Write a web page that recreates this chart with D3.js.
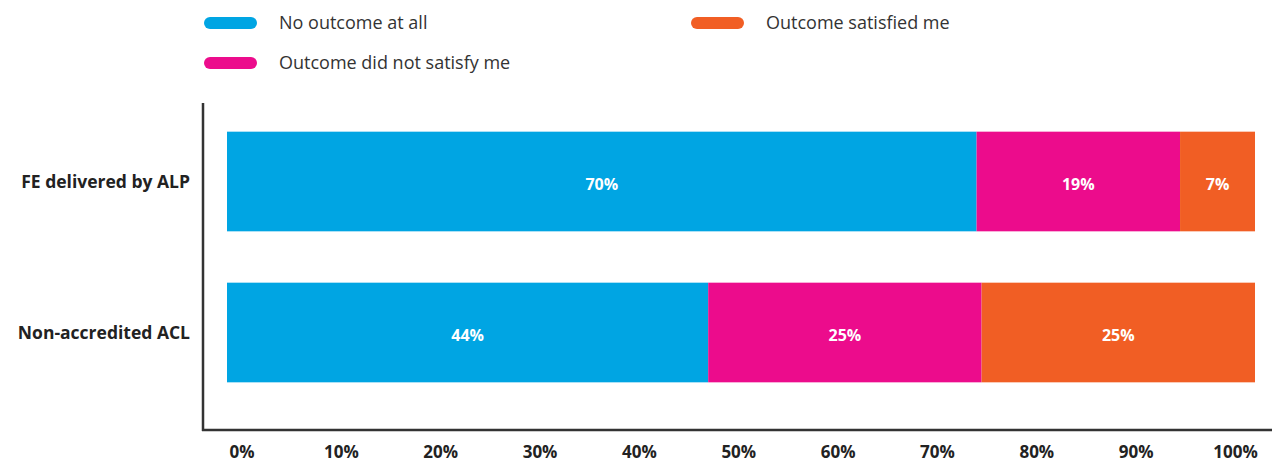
<!DOCTYPE html>
<html>
<head>
<meta charset="utf-8">
<script src="https://cdn.jsdelivr.net/npm/d3@7"></script>
<style>
  body { margin: 0; background: #fff; }
  text { font-family: "Open Sans", "Noto Sans", sans-serif; }
</style>
</head>
<body>
<script>
// Data
const categories = ["FE delivered by ALP", "Non-accredited ACL"];
const seriesNames = ["No outcome at all", "Outcome did not satisfy me", "Outcome satisfied me"];
const noOutcome = [70, 44];
const notSatisfied = [19, 25];
const satisfied = [7, 25];
const tickValues = [0, 10, 20, 30, 40, 50, 60, 70, 80, 90, 100];

const colors = ["#00a5e3", "#ec0c8c", "#f15e24"];

const width = 1272, height = 467;

const svg = d3.select("body")
    .append("svg")
    .attr("width", width)
    .attr("height", height);

// rows, each normalised to its own total so bars fill the full width
const rows = categories.map((c, i) => {
    const vals = [noOutcome[i], notSatisfied[i], satisfied[i]];
    const total = d3.sum(vals);
    let acc = 0;
    return {
        name: c,
        segs: vals.map((v, j) => {
            const s = { value: v, start: acc / total * 100, end: (acc + v) / total * 100, color: colors[j] };
            acc += v;
            return s;
        })
    };
});

// Scales
const x = d3.scaleLinear().domain([0, 100]).range([227, 1255]);
const xTicks = d3.scaleLinear().domain([0, 100]).range([241.5, 1235]);
const y = d3.scaleBand().domain(categories).range([106, 408]).paddingInner(0.34).paddingOuter(0.17);

// Bars
const rowG = svg.selectAll("g.row")
    .data(rows)
    .enter()
    .append("g")
    .attr("class", "row")
    .attr("transform", d => `translate(0, ${y(d.name)})`);

rowG.selectAll("rect")
    .data(d => d.segs)
    .enter()
    .append("rect")
    .attr("x", d => x(d.start))
    .attr("width", d => x(d.end) - x(d.start))
    .attr("y", 0)
    .attr("height", y.bandwidth())
    .attr("fill", d => d.color);

rowG.selectAll("text.val")
    .data(d => d.segs)
    .enter()
    .append("text")
    .attr("class", "val")
    .attr("x", d => (x(d.start) + x(d.end)) / 2)
    .attr("y", y.bandwidth() / 2 + 3)
    .attr("dy", "0.35em")
    .attr("text-anchor", "middle")
    .attr("fill", "#fff")
    .attr("font-size", 16)
    .attr("font-weight", 700)
    .text(d => d.value + "%");

// Category labels
svg.selectAll("text.cat")
    .data(categories)
    .enter()
    .append("text")
    .attr("class", "cat")
    .attr("x", 190)
    .attr("y", d => y(d) + y.bandwidth() / 2)
    .attr("dy", "0.35em")
    .attr("text-anchor", "end")
    .attr("fill", "#222")
    .attr("font-size", 17.5)
    .attr("font-weight", 700)
    .text(d => d);

// Axis lines
svg.append("line")
    .attr("x1", 203).attr("x2", 203)
    .attr("y1", 103).attr("y2", 431)
    .attr("stroke", "#333").attr("stroke-width", 2.5);
svg.append("line")
    .attr("x1", 202).attr("x2", width)
    .attr("y1", 430).attr("y2", 430)
    .attr("stroke", "#333").attr("stroke-width", 2.5);

// Tick labels
const xAxis = d3.axisBottom(xTicks)
    .tickValues(tickValues)
    .tickSize(0)
    .tickPadding(0)
    .tickFormat(d => d + "%");

const xAxisGroup = svg.append("g")
    .attr("transform", "translate(0, 446)")
    .call(xAxis);
xAxisGroup.select(".domain").remove();
xAxisGroup.selectAll("text")
    .attr("font-family", "\"Open Sans\", \"Noto Sans\", sans-serif")
    .attr("font-size", 17)
    .attr("font-weight", 700)
    .attr("fill", "#222");

// Legend
const legendPos = [[204, 23], [204, 63], [691, 23]];
const legend = svg.selectAll("g.legend")
    .data(seriesNames)
    .enter()
    .append("g")
    .attr("class", "legend")
    .attr("transform", (d, i) => `translate(${legendPos[i][0]}, ${legendPos[i][1]})`);

legend.append("rect")
    .attr("x", 0)
    .attr("y", -6)
    .attr("width", 53)
    .attr("height", 12)
    .attr("rx", 6)
    .attr("fill", (d, i) => colors[i]);

legend.append("text")
    .attr("x", 75)
    .attr("y", 0)
    .attr("dy", "0.33em")
    .attr("fill", "#333")
    .attr("font-size", 18)
    .text(d => d);
</script>
</body>
</html>
